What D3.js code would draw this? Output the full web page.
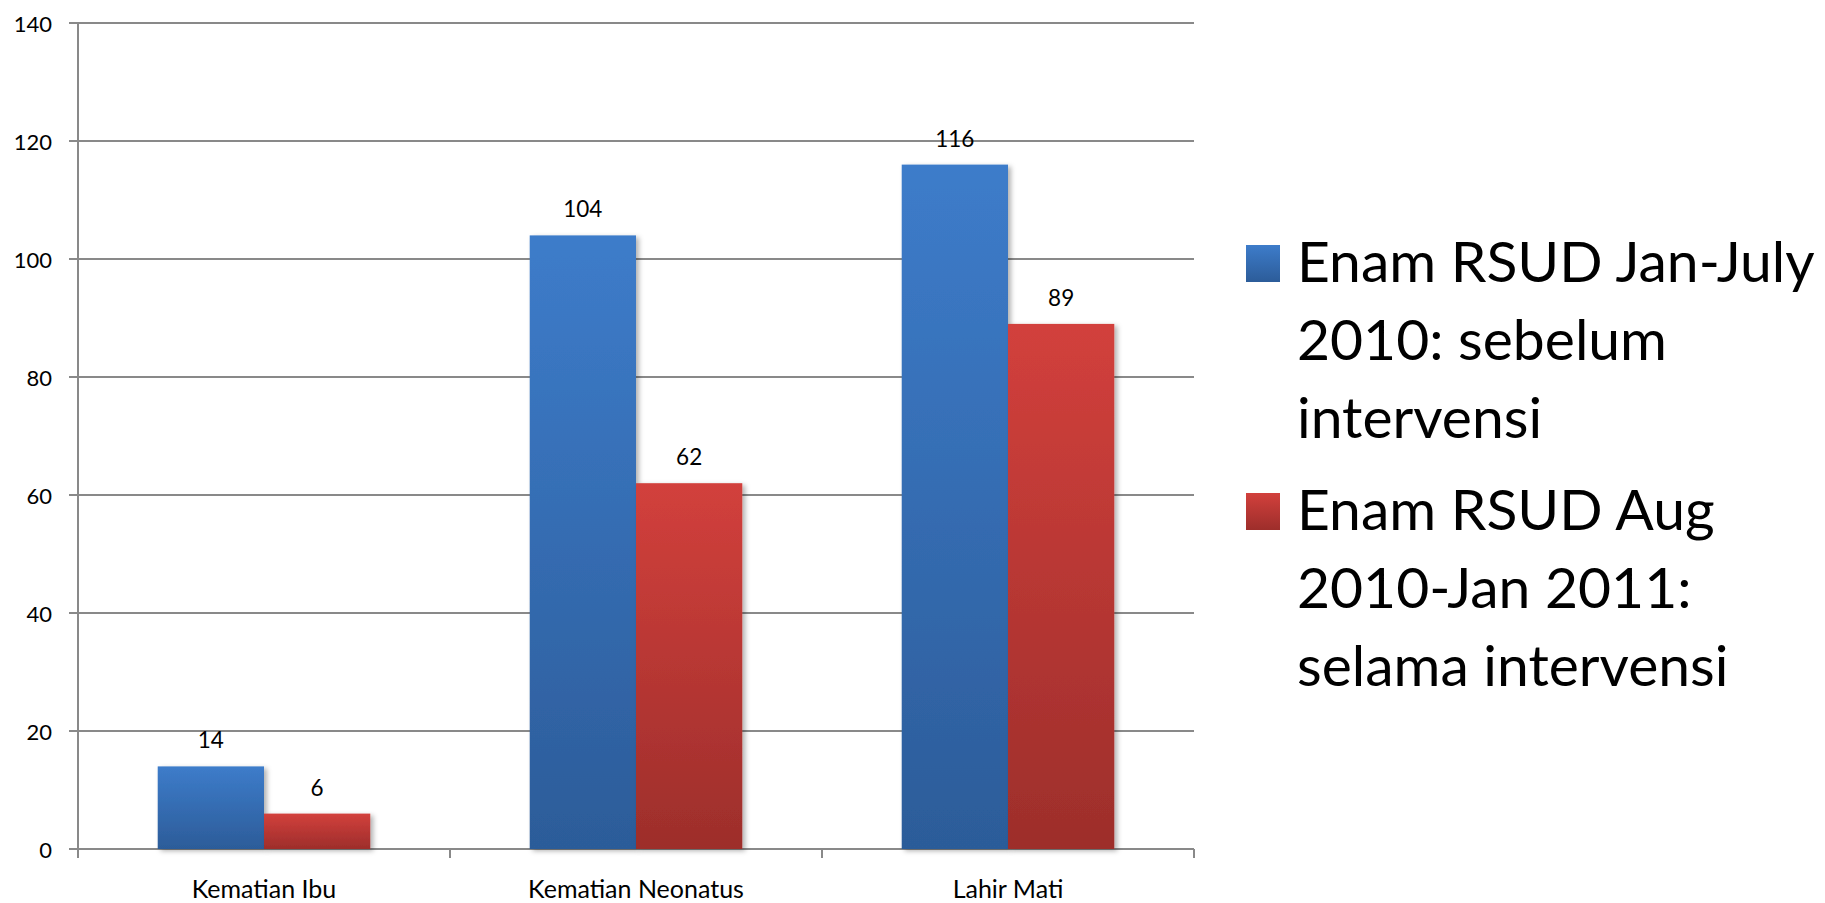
<!DOCTYPE html>
<html>
<head>
<meta charset="utf-8">
<script src="https://cdn.jsdelivr.net/npm/d3@7"></script>
<style>
  html, body { margin: 0; padding: 0; background: #fff; }
  svg { display: block; }
  text { font-family: Lato, "Open Sans", sans-serif; fill: #000; }
</style>
</head>
<body>
<svg id="chart" width="1825" height="903"></svg>
<script>
// Categories and series values
const categories = ["Kematian Ibu", "Kematian Neonatus", "Lahir Mati"];
const seriesNames = [
  ["Enam RSUD Jan-July", "2010: sebelum", "intervensi"],
  ["Enam RSUD Aug", "2010-Jan 2011:", "selama intervensi"]
];
const sebelum = [14, 104, 116];
const selama = [6, 62, 89];
const yTicks = [0, 20, 40, 60, 80, 100, 120, 140];

const series = [
  { key: "sebelum", values: sebelum, top: "#3d7cca", bottom: "#2c5c99" },
  { key: "selama", values: selama, top: "#d2403c", bottom: "#9d2e2b" }
];

const svg = d3.select("#chart");
const plot = { left: 78, right: 1194, top: 23, bottom: 849 };

const y = d3.scaleLinear().domain([0, 140]).range([plot.bottom, plot.top]);
const x0 = d3.scaleBand().domain(categories).range([plot.left, plot.right]).padding(0);
// gap width of 150% of a bar between groups
const groupW = x0.bandwidth() * 2 / 3.5;
const x1 = d3.scaleBand().domain(series.map(s => s.key))
  .range([(x0.bandwidth() - groupW) / 2, (x0.bandwidth() + groupW) / 2]).padding(0);

const defs = svg.append("defs");
series.forEach(s => {
  const g = defs.append("linearGradient").attr("id", "grad-" + s.key)
    .attr("x1", 0).attr("y1", 0).attr("x2", 0).attr("y2", 1);
  g.append("stop").attr("offset", "0%").attr("stop-color", s.top);
  g.append("stop").attr("offset", "100%").attr("stop-color", s.bottom);
});
const shadow = defs.append("filter").attr("id", "barShadow")
  .attr("x", "-10%").attr("y", "-10%").attr("width", "130%").attr("height", "130%");
shadow.append("feDropShadow").attr("dx", 3).attr("dy", 2)
  .attr("stdDeviation", 2.5).attr("flood-color", "#000").attr("flood-opacity", 0.3);

const gridColor = "#898989";

// Horizontal gridlines
svg.append("g").selectAll("line").data(yTicks).join("line")
  .attr("x1", plot.left - 9).attr("x2", plot.right)
  .attr("y1", d => y(d)).attr("y2", d => y(d))
  .attr("stroke", gridColor).attr("stroke-width", 2);

// Y axis labels
svg.append("g").selectAll("text").data(yTicks).join("text")
  .attr("x", 52).attr("y", d => y(d))
  .attr("text-anchor", "end").attr("dominant-baseline", "central")
  .style("font-size", "22px")
  .text(d => d);

// Vertical axis line
svg.append("line")
  .attr("x1", plot.left).attr("x2", plot.left)
  .attr("y1", plot.top).attr("y2", plot.bottom + 9)
  .attr("stroke", gridColor).attr("stroke-width", 2);

// Category tick marks
const catEdges = categories.map(c => x0(c)).concat([plot.right]);
svg.append("g").selectAll("line").data(catEdges.slice(1)).join("line")
  .attr("x1", d => d).attr("x2", d => d)
  .attr("y1", plot.bottom).attr("y2", plot.bottom + 9)
  .attr("stroke", gridColor).attr("stroke-width", 2);

// Bars
const groups = svg.append("g").selectAll("g").data(categories).join("g")
  .attr("transform", c => `translate(${x0(c)},0)`);

groups.selectAll("rect")
  .data((c, i) => series.map(s => ({ key: s.key, v: s.values[i] })))
  .join("rect")
  .attr("x", d => x1(d.key))
  .attr("width", x1.bandwidth())
  .attr("y", d => y(d.v))
  .attr("height", d => plot.bottom - y(d.v))
  .attr("fill", d => `url(#grad-${d.key})`)
  .attr("filter", "url(#barShadow)");

// Value labels
groups.selectAll("text.val")
  .data((c, i) => series.map(s => ({ key: s.key, v: s.values[i] })))
  .join("text")
  .attr("class", "val")
  .attr("x", d => x1(d.key) + x1.bandwidth() / 2)
  .attr("y", d => y(d.v) - 18)
  .attr("text-anchor", "middle")
  .style("font-size", "22.5px")
  .text(d => d.v);

// Category labels
svg.append("g").selectAll("text").data(categories).join("text")
  .attr("x", c => x0(c) + x0.bandwidth() / 2)
  .attr("y", 898)
  .attr("text-anchor", "middle")
  .style("font-size", "25px")
  .text(c => c);

// Legend
const legendTops = [245, 493];
const legend = svg.append("g").selectAll("g").data(series).join("g");
legend.append("rect")
  .attr("x", 1246).attr("width", 34)
  .attr("y", (s, i) => legendTops[i]).attr("height", 37)
  .attr("fill", s => `url(#grad-${s.key})`);
legend.each(function (s, i) {
  d3.select(this).selectAll("text").data(seriesNames[i]).join("text")
    .attr("x", 1297)
    .attr("y", (t, j) => legendTops[i] + 37 + j * 78)
    .style("font-size", "57px")
    .text(t => t);
});
</script>
</body>
</html>
